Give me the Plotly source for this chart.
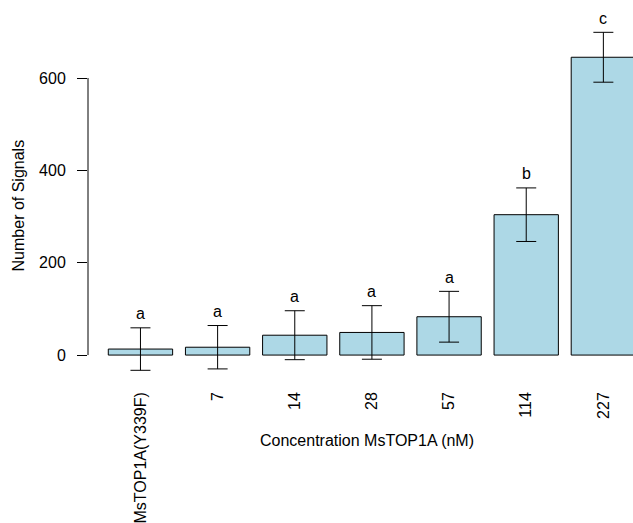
import plotly.graph_objects as go

categories = ["MsTOP1A(Y339F)", "7", "14", "28", "57", "114", "227"]
means = [13, 17, 43, 49, 83, 304, 645]
sds = [46, 47, 53, 58, 55, 58, 54]
letters = ["a", "a", "a", "a", "a", "b", "c"]
yticks = [0, 200, 400, 600]

FONT = "Liberation Sans, Arial, Helvetica, sans-serif"

fig = go.Figure()
fig.add_trace(go.Bar(
    x=categories, y=means,
    marker=dict(color="#ADD8E6", line=dict(color="black", width=1)),
    error_y=dict(type="data", array=sds, visible=True, color="black", thickness=1, width=10),
    cliponaxis=False,
))

for i, (m, s, l) in enumerate(zip(means, sds, letters)):
    fig.add_annotation(x=i, y=m + s, text=l, showarrow=False, yanchor="middle",
                       yshift=14, font=dict(size=16, color="black", family=FONT))

fig.add_annotation(x=0.512, y=-0.158, xref="paper", yref="paper", text="Concentration MsTOP1A (nM)",
                   showarrow=False, yanchor="middle", font=dict(size=16, color="black", family=FONT))
fig.add_annotation(x=-0.128, y=0.46, xref="paper", yref="paper", text="Number of Signals",
                   textangle=-90, showarrow=False, xanchor="center", yanchor="middle",
                   font=dict(size=16, color="black", family=FONT))

fig.add_shape(type="line", xref="paper", yref="y", x0=0, x1=0, y0=yticks[0], y1=yticks[-1],
              line=dict(color="black", width=1))

fig.update_layout(
    width=633, height=523,
    margin=dict(l=88, r=0, t=0, b=143),
    plot_bgcolor="white", paper_bgcolor="white",
    font=dict(family=FONT, size=16, color="black"),
    showlegend=False,
    bargap=0.166,
    xaxis=dict(type="category", range=[-0.680, 6.384], tickangle=-90, ticks="", showline=False,
               showgrid=False, zeroline=False, ticklabelstandoff=8, fixedrange=True),
    yaxis=dict(range=[-54, 769], tickvals=yticks, ticks="outside", ticklen=10,
               tickcolor="black", showline=False, showgrid=False, zeroline=False,
               ticklabelstandoff=8),
)
fig.write_html("out.html")
